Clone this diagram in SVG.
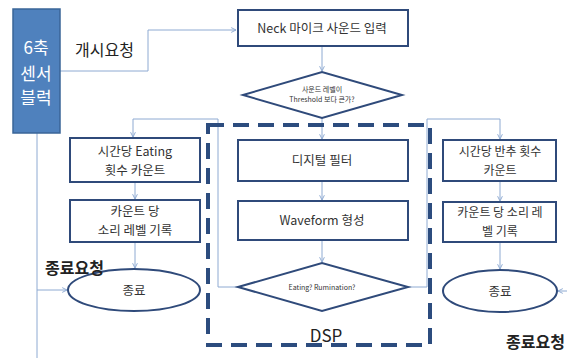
<svg xmlns="http://www.w3.org/2000/svg" width="567" height="358" viewBox="0 0 567 358">
  <style>
    .box { fill: #ffffff; stroke: #2f4a7a; stroke-width: 2; }
    .wire { fill: none; stroke: #8eaad2; stroke-width: 1; }
    .t { font-family: "Noto Sans CJK KR", "Noto Sans", sans-serif; fill: #333333; text-anchor: middle; }
    .s13 { font-size: 12.5px; }
    .s12 { font-size: 12px; }
    .small { font-size: 7px; }
    .lbl { font-family: "Noto Sans CJK KR", "Noto Sans", sans-serif; fill: #222222; font-size: 16px; font-weight: bold; }
    .dsp { fill: none; stroke: #2c4c7e; stroke-width: 4; stroke-dasharray: 16 9; }
  </style>
  <defs>
    <marker id="arr" viewBox="0 0 10 10" refX="9" refY="5" markerWidth="6" markerHeight="6" orient="auto">
      <path d="M1,1 L9,5 L1,9" fill="none" stroke="#8eaad2" stroke-width="1.6"/>
    </marker>
  </defs>
  <rect width="567" height="358" fill="#ffffff"/>

  <!-- connectors -->
  <g id="connectors">
    <path class="wire" d="M60,71 H148 V30 H236" marker-end="url(#arr)"/>
    <path class="wire" d="M322,46 V71" marker-end="url(#arr)"/>
    <path class="wire" d="M322,118 V139" marker-end="url(#arr)"/>
    <path class="wire" d="M322,181 V200" marker-end="url(#arr)"/>
    <path class="wire" d="M322,240 V262" marker-end="url(#arr)"/>
    <path class="wire" d="M238,287 H218 V119 H133 V137" marker-end="url(#arr)"/>
    <path class="wire" d="M408,287 H427 V119 H500 V139" marker-end="url(#arr)"/>
    <path class="wire" d="M135,183 V199" marker-end="url(#arr)"/>
    <path class="wire" d="M135,242 V268" marker-end="url(#arr)"/>
    <path class="wire" d="M500,181 V201" marker-end="url(#arr)"/>
    <path class="wire" d="M500,242 V269" marker-end="url(#arr)"/>
    <path class="wire" d="M37,133 V358"/>
    <path class="wire" d="M37,290 H67" marker-end="url(#arr)"/>
    <path class="wire" d="M567,291 H558" marker-end="url(#arr)"/>
  </g>

  <!-- DSP region -->
  <g id="dsp">
    <rect class="dsp" x="208" y="125" width="222" height="220"/>
    <text x="326" y="342" font-family="Noto Sans CJK KR, Noto Sans, sans-serif" font-size="17" fill="#222222" text-anchor="middle">DSP</text>
  </g>

  <!-- sensor block -->
  <g id="sensor">
    <rect x="13" y="9" width="47" height="124" fill="#4f81bd" stroke="#3a6598" stroke-width="1.5"/>
    <text class="t" x="36" y="54" font-size="17" style="fill:#ffffff">6축</text>
    <text class="t" x="36" y="80" font-size="17" style="fill:#ffffff">센서</text>
    <text class="t" x="36" y="104" font-size="17" style="fill:#ffffff">블럭</text>
  </g>

  <g id="start-label">
    <text class="lbl" x="75" y="56" style="font-weight:normal">개시요청</text>
  </g>

  <g id="neck">
    <rect class="box" x="238" y="10" width="170" height="36"/>
    <text class="t s13" x="322" y="33">Neck 마이크 사운드 입력</text>
  </g>

  <g id="threshold">
    <polygon class="box" points="243,95 322,72 402,95 322,118"/>
    <text class="t small" x="322" y="92">사운드 레벨이</text>
    <text class="t small" x="322" y="102">Threshold 보다 큰가?</text>
  </g>

  <g id="filter">
    <rect class="box" x="238" y="140" width="170" height="41"/>
    <text class="t s13" x="322" y="165">디지털 필터</text>
  </g>

  <g id="waveform">
    <rect class="box" x="238" y="201" width="170" height="39"/>
    <text class="t s13" x="322" y="225">Waveform 형성</text>
  </g>

  <g id="classify">
    <polygon class="box" points="238,287 322,263 408,287 322,311"/>
    <text class="t small" x="322" y="290">Eating? Rumination?</text>
  </g>

  <g id="eat-count">
    <rect class="box" x="70" y="138" width="130" height="44"/>
    <text class="t s13" x="135" y="156">시간당 Eating</text>
    <text class="t s13" x="135" y="175">횟수 카운트</text>
  </g>

  <g id="eat-level">
    <rect class="box" x="70" y="200" width="130" height="42"/>
    <text class="t s13" x="135" y="216">카운트 당</text>
    <text class="t s13" x="135" y="235">소리 레벨 기록</text>
  </g>

  <g id="eat-end">
    <ellipse class="box" cx="134" cy="290" rx="66" ry="21"/>
    <text class="t s13" x="134" y="295">종료</text>
  </g>

  <g id="rum-count">
    <rect class="box" x="443" y="140" width="113" height="41"/>
    <text class="t s12" x="500" y="156">시간당 반추 횟수</text>
    <text class="t s12" x="500" y="175">카운트</text>
  </g>

  <g id="rum-level">
    <rect class="box" x="443" y="202" width="113" height="40"/>
    <text class="t s12" x="500" y="217">카운트 당 소리 레</text>
    <text class="t s12" x="500" y="236">벨 기록</text>
  </g>

  <g id="rum-end">
    <ellipse class="box" cx="500" cy="291" rx="57" ry="21"/>
    <text class="t s13" x="500" y="296">종료</text>
  </g>

  <g id="stop-labels">
    <text class="lbl" x="45" y="274">종료요청</text>
    <text class="lbl" x="506" y="348">종료요청</text>
  </g>
</svg>
